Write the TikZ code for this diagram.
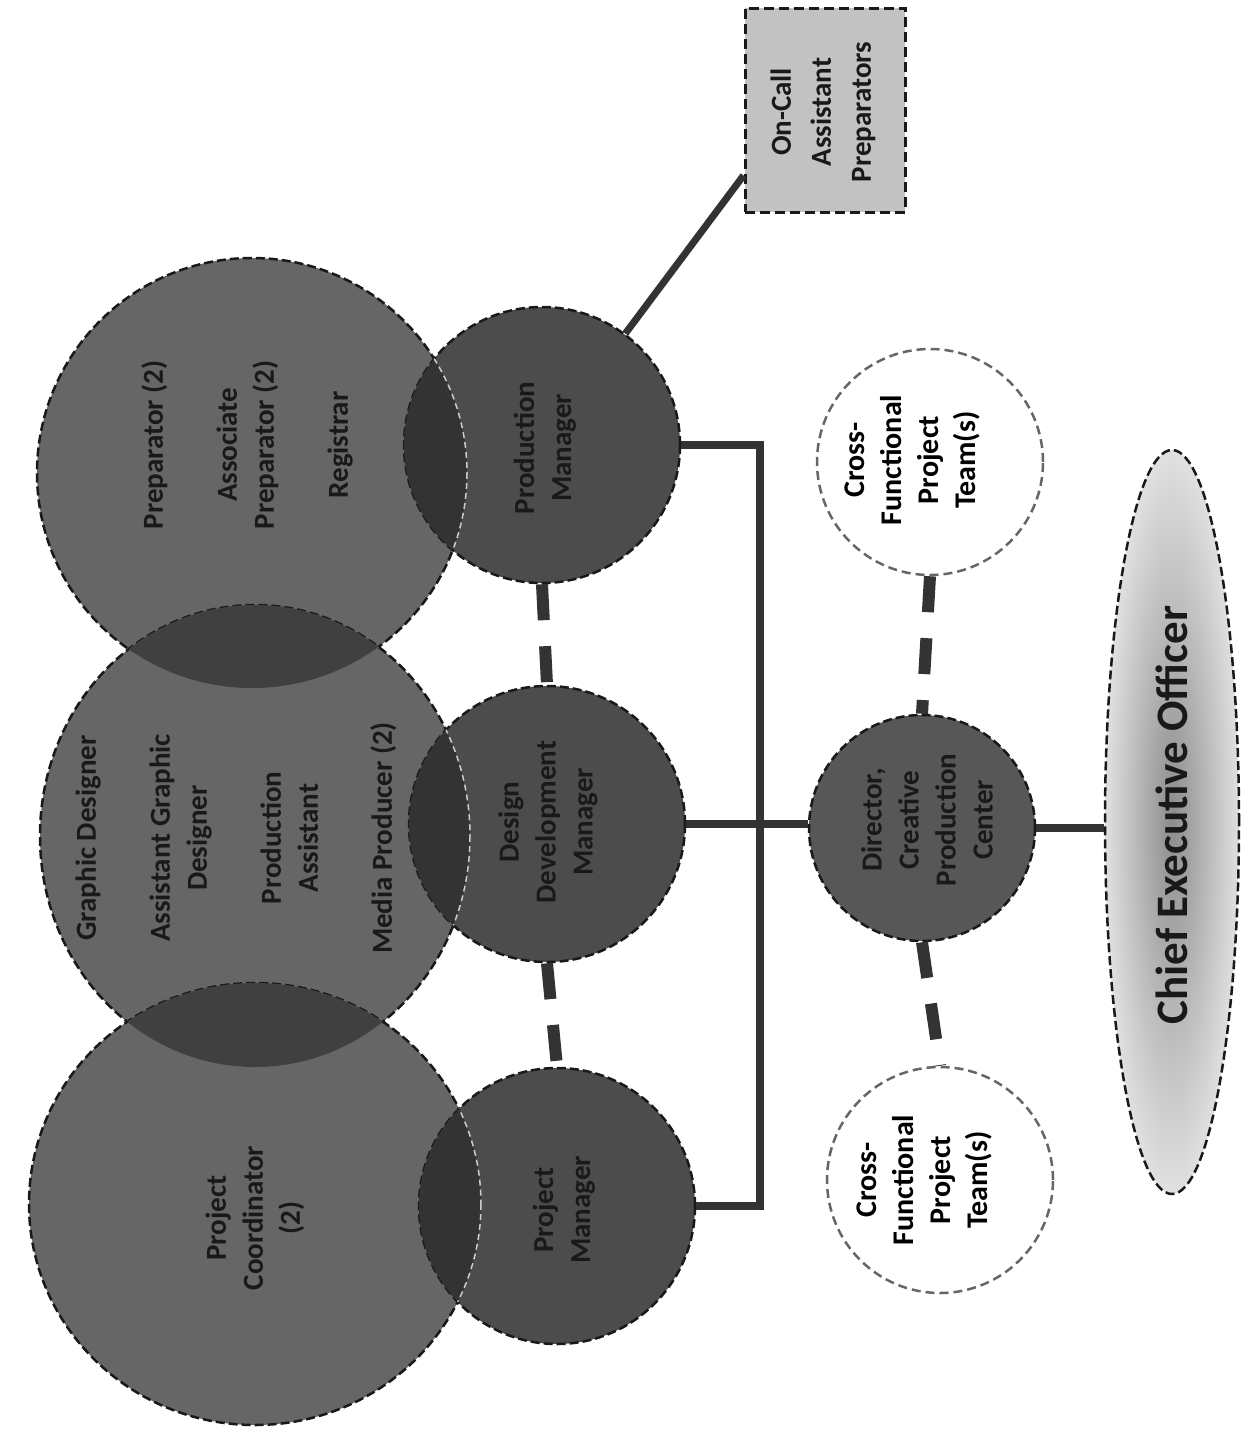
\documentclass[tikz,border=0pt]{standalone}
\usepackage{fontspec}
\setmainfont{Carlito}
\usetikzlibrary{shapes.geometric,calc}
\definecolor{bigfill}{gray}{0.40}
\definecolor{lensbig}{gray}{0.25}
\definecolor{medfill}{gray}{0.30}
\definecolor{lensmed}{gray}{0.20}
\definecolor{dirfill}{gray}{0.34}
\definecolor{txtdark}{gray}{0.10}
\definecolor{boxfill}{gray}{0.76}
\definecolor{linec}{gray}{0.20}
\begin{document}
\begin{tikzpicture}[x=1pt,y=-1pt,
  brd/.style={draw=black!90, line width=2.5pt, dash pattern=on 9pt off 4pt},
  bigshape/.style={ellipse, inner sep=0pt, fill=bigfill, brd},
  medshape/.style={circle, inner sep=0pt, minimum size=276pt, fill=medfill, brd},
  cfshape/.style={circle, inner sep=0pt, minimum size=226pt, fill=white, draw=black!60, line width=2.5pt, dash pattern=on 9pt off 5pt},
  lbl/.style={rotate=90, align=center, font=\bfseries\fontsize{29}{37}\selectfont, text=txtdark, inner sep=0pt},
  conn/.style={line width=8pt, draw=linec},
  dconn/.style={line width=12pt, draw=linec, dash pattern=on 36pt off 26pt},
]
\useasboundingbox[fill=white] (0,0) rectangle (1249,1448);

% large circles
\node[bigshape, minimum width=430pt, minimum height=430pt] (prep) at (252,473) {};
\node[bigshape, minimum width=430pt, minimum height=462pt] (gd) at (255,836) {};
\node[bigshape, minimum width=452pt, minimum height=442pt] (coord) at (255,1204) {};
\begin{scope}
  \clip (252,473) ellipse [x radius=215, y radius=215];
  \fill[lensbig] (255,836) ellipse [x radius=215, y radius=231];
\end{scope}
\begin{scope}
  \clip (255,836) ellipse [x radius=215, y radius=231];
  \fill[lensbig] (255,1204) ellipse [x radius=226, y radius=221];
\end{scope}

% medium circles
\node[medshape] (prodm) at (542,445) {};
\node[medshape] (ddm) at (547,824) {};
\node[medshape] (projm) at (557,1206) {};
\begin{scope}
  \clip (252,473) ellipse [x radius=215, y radius=215];
  \fill[lensmed] (542,445) circle [radius=138];
\end{scope}
\begin{scope}
  \clip (255,836) ellipse [x radius=215, y radius=231];
  \fill[lensmed] (547,824) circle [radius=138];
\end{scope}
\begin{scope}
  \clip (255,1204) ellipse [x radius=226, y radius=221];
  \fill[lensmed] (557,1206) circle [radius=138];
\end{scope}
% faint large borders inside the lenses
\begin{scope}
  \clip (542,445) circle [radius=138];
  \draw[white!80!black, line width=1.5pt, dash pattern=on 6pt off 4pt] (252,473) ellipse [x radius=215, y radius=215];
\end{scope}
\begin{scope}
  \clip (547,824) circle [radius=138];
  \draw[white!80!black, line width=1.5pt, dash pattern=on 6pt off 4pt] (255,836) ellipse [x radius=215, y radius=231];
\end{scope}
\begin{scope}
  \clip (557,1206) circle [radius=138];
  \draw[white!80!black, line width=1.5pt, dash pattern=on 6pt off 4pt] (255,1204) ellipse [x radius=226, y radius=221];
\end{scope}

% right column
\node[circle, inner sep=0pt, minimum size=226pt, fill=dirfill, brd] (dir) at (922,828) {};
\node[cfshape] (cftop) at (930,462) {};
\node[cfshape] (cfbot) at (940,1180) {};
\node[ellipse, inner sep=0pt, minimum width=134pt, minimum height=744pt,
      inner color=black!45, outer color=black!12, brd] (ceo) at (1172,822) {};
\node[rectangle, inner sep=0pt, minimum width=160pt, minimum height=204pt,
      fill=boxfill, draw=black!90, line width=3pt, dash pattern=on 10pt off 5pt] (box) at (825,110) {};

% connectors
\coordinate (bx) at (760,0);
\draw[conn] (prodm.east) -- (prodm.east -| bx) -- (projm.east -| bx) -- (projm.east);
\draw[conn] (ddm.east) -- (dir.west |- ddm.east);
\draw[conn] (dir.east) -- (ceo.west |- dir.east);
\draw[line width=7pt, draw=linec] (prodm) -- ([yshift=38pt]box.south west);
\draw[dconn] (prodm.south) -- (ddm.north);
\draw[dconn] (ddm.south) -- (projm.north);
\draw[dconn] (cftop.south) -- (dir.north);
\draw[dconn] (dir.south) -- (cfbot.north);

% labels
\node[lbl] (tprep) at (247,445) {Preparator (2)\\[37pt]Associate\\Preparator (2)\\[37pt]Registrar};
\node[lbl] (tgd) at (236,838) {Graphic Designer\\[37pt]Assistant Graphic\\Designer\\[37pt]Production\\Assistant\\[37pt]Media Producer (2)};
\node[lbl] (tcoord) at (255,1218) {Project\\Coordinator\\(2)};
\node[lbl] (tprodm) at (545,448) {Production\\Manager};
\node[lbl] (tddm) at (548,822) {Design\\Development\\Manager};
\node[lbl] (tprojm) at (564,1210) {Project\\Manager};
\node[lbl] (tdir) at (927,820) {Director,\\Creative\\Production\\Center};
\node[lbl, text=black, font=\bfseries\fontsize{30}{37}\selectfont] (tcftop) at (912,460) {Cross-\\Functional\\Project\\Team(s)};
\node[lbl, text=black, font=\bfseries\fontsize{30}{37}\selectfont] (tcfbot) at (924,1180) {Cross-\\Functional\\Project\\Team(s)};
\node[lbl, text=black!90, font=\bfseries\fontsize{45}{54}\selectfont] (tceo) at (1172,815) {Chief Executive Officer};
\node[lbl, font=\bfseries\fontsize{29}{40}\selectfont] (tbox) at (823,112) {On-Call\\Assistant\\Preparators};
\end{tikzpicture}
\end{document}
